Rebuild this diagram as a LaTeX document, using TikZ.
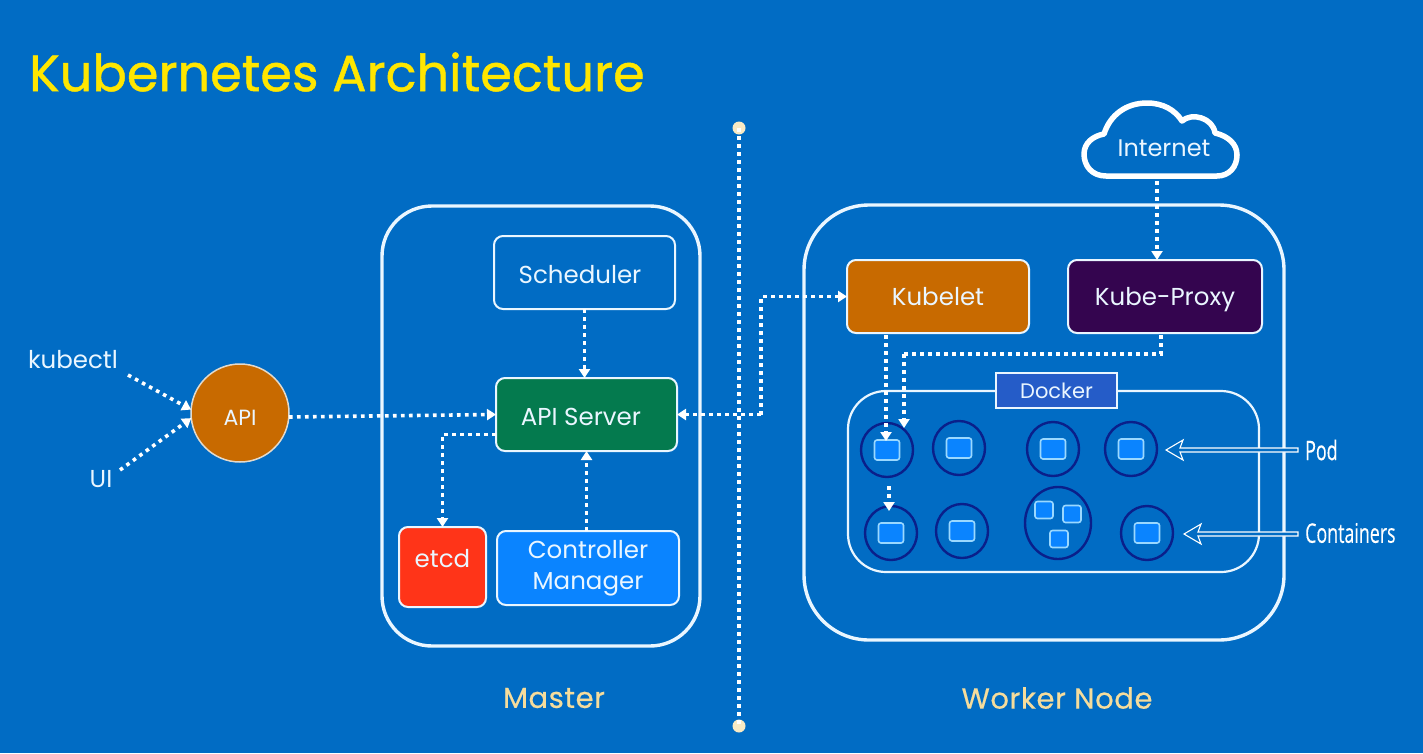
\documentclass[tikz,border=0pt]{standalone}
\usepackage{fontspec}
\usetikzlibrary{arrows.meta,calc,shapes.geometric}
\setmainfont{Poppins}
\newfontfamily\narrowf[FakeStretch=0.66,FakeBold=0.25]{Open Sans}
\newfontfamily\headf[FakeBold=0.9]{Poppins}
\newfontfamily\subf[FakeBold=0.5,LetterSpace=2]{Poppins}
\newcommand\tx[2]{\raisebox{#1}[0pt][0pt]{#2}}
\definecolor{bgblue}{HTML}{016CC4}
\definecolor{titley}{HTML}{FFE600}
\definecolor{cream}{HTML}{F5DC9C}
\definecolor{linew}{HTML}{EAF6FF}
\definecolor{okgreen}{HTML}{047A4E}
\definecolor{etcdred}{HTML}{FF3418}
\definecolor{ctrlblue}{HTML}{0A84FF}
\definecolor{kubeor}{HTML}{C86A00}
\definecolor{proxyp}{HTML}{34054F}
\definecolor{dockerb}{HTML}{255CC8}
\definecolor{podnavy}{HTML}{0A1F8A}
\definecolor{contline}{HTML}{9AD8FF}
\tikzset{
  fs/.style={font=\fontsize{#1}{31}\selectfont},
  frame/.style={draw=linew,line width=3.4pt,rounded corners=#1,inner sep=0pt,outer sep=0pt},
  cbox/.style={draw=linew,line width=2pt,rounded corners=9pt,inner sep=0pt,outer sep=0pt,text=linew,fs=24.5},
  dotline/.style={draw=white,line width=3.6pt,dash pattern=on 3.6pt off 4.4pt},
  dotarrow/.style={dotline,-{Triangle[width=11pt,length=9pt,sep=0pt]}},
  pod/.style={draw=podnavy,line width=2.4pt,ellipse,inner sep=0pt,outer sep=0pt},
  cont/.style={draw=contline,fill=ctrlblue,line width=1.6pt,rounded corners=2.5pt,inner sep=0pt,outer sep=0pt,minimum width=#1},
  hollow/.style={draw=white,line width=1.1pt,fill=bgblue},
  lab/.style={text=linew,inner sep=0pt,fs=24.5},
  side/.style={text=white,inner sep=0pt,font=\narrowf\fontsize{27}{31}\selectfont,anchor=west},
}
\begin{document}
\begin{tikzpicture}[x=1pt,y=-1pt]
\useasboundingbox (0,0) rectangle (1423,753);
\fill[bgblue] (0,0) rectangle (1423,753);
\node[text=titley,inner sep=0pt,anchor=west,font=\headf\fontsize{51}{56}\selectfont] (title) at (29,72) {Kubernetes Architecture};

% frames
\node[frame=50pt,minimum width=318pt,minimum height=440pt] (master) at (541,426) {};
\node[frame=65pt,minimum width=480pt,minimum height=435pt] (worker) at (1044,422.5) {};
\node[frame=38pt,line width=2.2pt,minimum width=411pt,minimum height=181pt] (dockerarea) at (1053.5,481.5) {};

% boxes
\node[cbox,minimum width=181pt,minimum height=73pt] (sched) at (584.5,272.5) {\hspace*{-9pt}\tx{-11pt}{Scheduler}};
\node[cbox,fill=okgreen,minimum width=181pt,minimum height=73pt] (apis) at (586.5,414.5) {\hspace*{-11pt}\tx{-11pt}{API Server}};
\node[cbox,fill=etcdred,minimum width=87pt,minimum height=80pt] (etcd) at (442.5,567) {\tx{0pt}{etcd}};
\node[cbox,fill=ctrlblue,minimum width=182pt,minimum height=74pt] (ctrl) at (588,568) {\tx{-6pt}{\begin{tabular}{@{}c@{}}Controller\\Manager\end{tabular}}};
\node[cbox,fill=kubeor,minimum width=182pt,minimum height=73pt] (kubelet) at (938,296.5) {\tx{-9pt}{Kubelet}};
\node[cbox,fill=proxyp,minimum width=194pt,minimum height=73pt] (proxy) at (1165,296.5) {\tx{-9pt}{Kube-Proxy}};
\node[draw=linew,line width=2.2pt,fill=dockerb,text=linew,minimum width=121pt,minimum height=35pt,inner sep=0pt,outer sep=0pt,fs=21] (docker) at (1056.5,390.5) {\tx{-8pt}{Docker}};
\node[circle,draw=linew!80!kubeor,line width=1.5pt,fill=kubeor,text=linew,minimum size=98pt,inner sep=0pt,outer sep=0pt,fs=22] (api) at (240,413) {\tx{-12pt}{API}};

% labels
\node[lab] (kubectl) at (73,360) {kubectl};
\node[lab] (ui) at (101,479) {UI};
\node[text=cream,inner sep=0pt,font=\subf\fontsize{29}{34}\selectfont] (mlabel) at (554,698) {Master};
\node[text=cream,inner sep=0pt,font=\subf\fontsize{29}{34}\selectfont] (wlabel) at (1057,698) {Worker Node};
\node[side] (podl) at (1305,450) {Pod};
\node[side] (contl) at (1305,533) {Containers};

% cloud
\draw[draw=white,line width=5.5pt,line join=round]
  (1106,176) .. controls (1092,176) and (1084,166) .. (1084,154)
  .. controls (1084,143) and (1093,136) .. (1104,134)
  .. controls (1110,115) and (1126,103) .. (1147,103)
  .. controls (1163,103) and (1175,110) .. (1182,121)
  .. controls (1192,112) and (1213,118) .. (1215,133)
  .. controls (1228,136) and (1237,144) .. (1237,155)
  .. controls (1237,167) and (1229,176) .. (1217,176) -- cycle;
\node[inner sep=0pt,text=linew,fs=24] (inet) at (1164,148) {Internet};
\coordinate (inetb) at (1157,181);

% pods
\foreach \n/\x/\y in {pa/887/450,pb/959/448,pc/1053/449,pd/1131/449,pe/891/533,pf/962/531,ph/1147/533}{
  \node[pod,minimum width=52pt,minimum height=54pt] (\n) at (\x,\y) {};
  \node[cont=25pt,minimum height=20pt] (c\n) at (\x,\y) {};
}
\node[pod,minimum width=66pt,minimum height=72pt] (pg) at (1058,523) {};
\node[cont=18pt,minimum height=17pt] (cg1) at (1044,510) {};
\node[cont=18pt,minimum height=17pt] (cg2) at (1072,514) {};
\node[cont=18pt,minimum height=17pt] (cg3) at (1059,539) {};

% connectors
\coordinate (kstart) at (128,375);
\coordinate (ustart) at (120,470);
\coordinate (apir) at ($(api.east)+(0,4)$);
\draw[dotarrow] (kstart) -- (api.176);
\draw[dotarrow] (ustart) -- (api.186);
\draw[dotarrow] (apir) -- (apis.west);
\draw[dotarrow] (sched.south) -- (apis.north -| sched.south);
\draw[dotarrow] (ctrl.north -| apis.south) -- (apis.south);
\coordinate (ee) at ($(apis.west)+(0,20)$);
\draw[dotarrow] (ee) -| (etcd.north);
\coordinate (mid) at (761,414.5);
\draw[dotarrow] (mid) -- (apis.east);
\draw[dotarrow] (mid) |- (kubelet.west);
\draw[dotarrow] (inetb) -- (proxy.north -| inetb);
\coordinate (ka) at (886,335);
\coordinate (kb) at (886,441);
\draw[dotarrow] (ka) -- (kb);
\coordinate (pa1) at (1161,335);
\coordinate (pa2) at (904,354);
\coordinate (pa3) at (904,428);
\draw[dotline] (pa1) |- (pa2);
\draw[dotarrow] (pa2) -- (pa3);
\coordinate (pp1) at (889,486);
\coordinate (pp2) at (889,511);
\draw[dotarrow] (pp1) -- (pp2);

% divider
\coordinate (divt) at (739,128);
\coordinate (divb) at (739,726);
\fill[cream!60!white] (divt) circle (6.5pt);
\fill[cream!60!white] (divb) circle (6.5pt);
\draw[dotline] (divt) -- (divb);

% hollow arrows
\coordinate (podtip) at (1166,450);
\coordinate (conttip) at (1184,534);
\draw[hollow] (podtip) -- ++(17,-10) -- ++(-3,8) -- ($(podl.west)+(-7,-2)$) -- ($(podl.west)+(-7,2)$) -- ($(podtip)+(14,2)$) -- ++(3,8) -- cycle;
\draw[hollow] (conttip) -- ++(17,-10) -- ++(-3,8) -- ($(contl.west)+(-7,-1)$) -- ($(contl.west)+(-7,3)$) -- ($(conttip)+(14,2)$) -- ++(3,8) -- cycle;
\end{tikzpicture}
\end{document}
